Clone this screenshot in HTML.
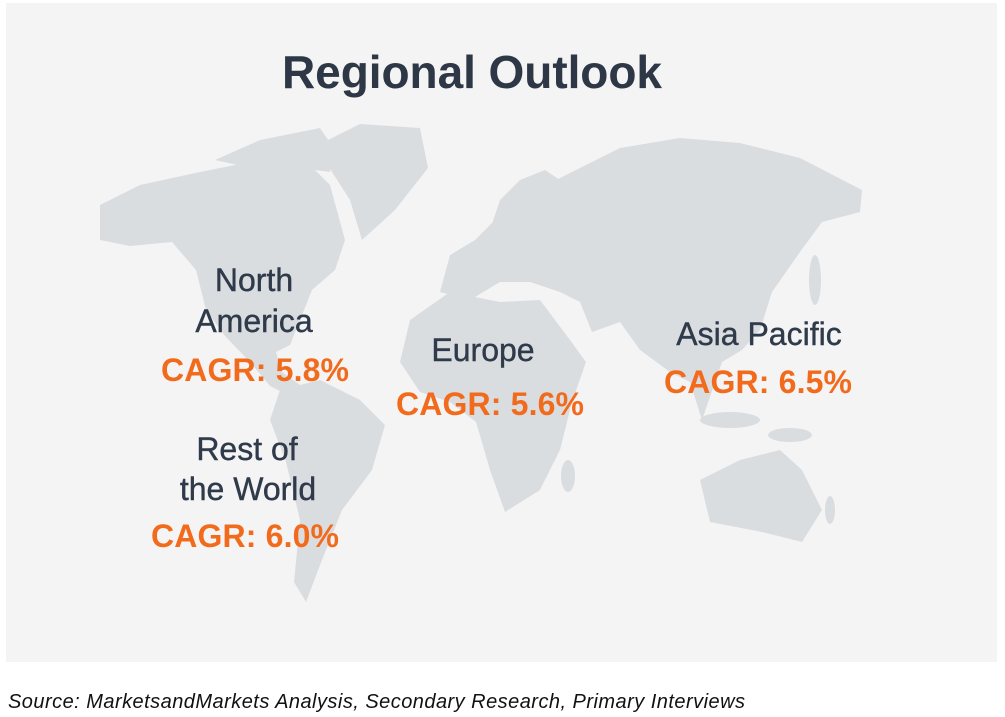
<!DOCTYPE html>
<html><head><meta charset="utf-8"><style>
html,body{margin:0;padding:0;background:#fff;}
svg{display:block;font-family:"Liberation Sans",sans-serif;}
</style></head><body>
<svg width="1005" height="717" viewBox="0 0 1005 717">
<rect x="6" y="3" width="991" height="659" fill="#f4f4f4"/>
<g fill="#dadde0">
<polygon points="100,205 140,185 200,172 250,162 300,155 330,185 345,240 335,270 312,290 300,320 290,345 276,352 282,372 300,385 290,396 270,386 250,362 225,336 206,310 196,270 172,242 130,246 100,240"/>
<polygon points="215,160 260,140 320,128 335,150 330,172 300,168 260,170"/>
<polygon points="318,145 360,124 420,128 428,168 395,210 362,240 350,200 332,172"/>
<polygon points="280,390 320,380 360,400 385,425 372,470 342,510 322,560 306,602 294,582 300,520 286,462 270,420"/>
<polygon points="490,230 500,200 520,180 545,170 560,180 540,200 525,230 505,250"/>
<polygon points="440,292 450,255 475,240 500,215 530,200 560,178 620,148 680,138 740,143 800,158 862,190 860,212 822,222 800,252 772,292 760,330 742,350 722,362 702,420 690,382 670,372 640,350 620,322 592,332 580,302 560,292 530,282 500,282 470,300"/>
<polygon points="410,320 450,292 500,302 540,300 570,340 586,362 572,402 560,450 540,490 505,512 490,470 476,422 450,402 420,392 400,362"/>
<polygon points="700,480 740,460 780,450 802,470 822,510 802,542 762,532 710,522"/>
<ellipse cx="568" cy="476" rx="7" ry="16"/>
<ellipse cx="730" cy="420" rx="30" ry="8"/>
<ellipse cx="790" cy="435" rx="22" ry="7"/>
<ellipse cx="815" cy="280" rx="6" ry="25"/>
<ellipse cx="830" cy="510" rx="5" ry="14"/>
</g>
<text x="472" y="88" text-anchor="middle" font-size="46" font-weight="bold" fill="#2d3746" textLength="380">Regional Outlook</text>
<g font-size="32" fill="#2f3a4a" stroke="#2f3a4a" stroke-width="0.4">
<text x="254" y="291" text-anchor="middle">North</text>
<text x="254" y="332" text-anchor="middle">America</text>
<text x="483" y="361" text-anchor="middle">Europe</text>
<text x="759" y="345" text-anchor="middle">Asia Pacific</text>
<text x="247" y="460" text-anchor="middle">Rest of</text>
<text x="248" y="500" text-anchor="middle">the World</text>
</g>
<g font-size="32" font-weight="bold" fill="#f26a1b">
<text x="255" y="381" text-anchor="middle" textLength="188">CAGR: 5.8%</text>
<text x="490" y="415" text-anchor="middle" textLength="188">CAGR: 5.6%</text>
<text x="758" y="393" text-anchor="middle" textLength="188">CAGR: 6.5%</text>
<text x="245" y="547" text-anchor="middle" textLength="188">CAGR: 6.0%</text>
</g>
<text x="8" y="708" font-size="20" font-style="italic" fill="#111" textLength="737">Source: MarketsandMarkets Analysis, Secondary Research, Primary Interviews</text>
</svg>
</body></html>
